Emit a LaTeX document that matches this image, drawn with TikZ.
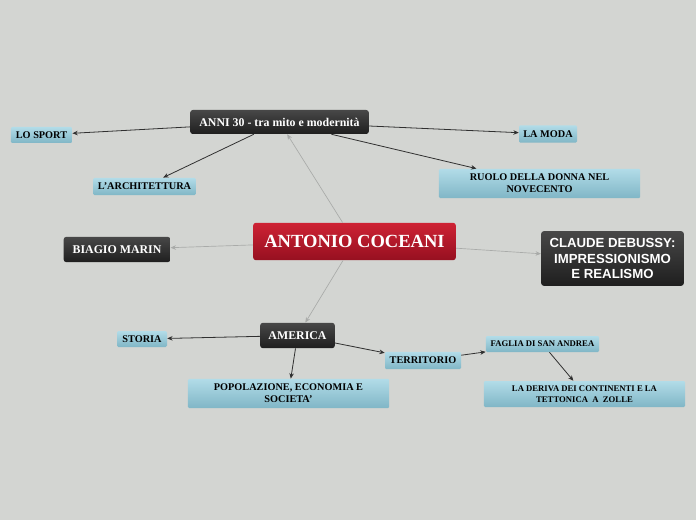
\documentclass[tikz,border=0pt]{standalone}
\usepackage{fontspec}
\setmainfont{Liberation Serif}
\newfontfamily\headsans{Liberation Sans}
\usetikzlibrary{arrows.meta}
\definecolor{bgcol}{HTML}{D3D5D2}
\definecolor{linkgray}{HTML}{A9ABA9}
\definecolor{linkdark}{HTML}{303030}
\definecolor{redtop}{HTML}{CE2234}
\definecolor{redbot}{HTML}{961020}
\definecolor{bluetop}{HTML}{B2DCE8}
\definecolor{bluebot}{HTML}{80B6C6}
\tikzset{
  mainbox/.style={rounded corners=2pt, top color=redtop, bottom color=redbot,
    text=white, font=\bfseries\fontsize{13.9}{15}\selectfont, minimum width=152pt, minimum height=28pt, inner sep=0pt},
  darkbox/.style={rounded corners=2pt, top color=black!72, bottom color=black!88,
    text=white, font=\bfseries\fontsize{8.9}{10}\selectfont, inner sep=0pt},
  bluebox/.style={rounded corners=1pt, top color=bluetop, bottom color=bluebot,
    text=black, font=\bfseries\fontsize{7.7}{9}\selectfont, inner sep=0pt, align=center},
  smalltext/.style={font=\bfseries\fontsize{6.5}{8}\selectfont},
  mainlink/.style={->, draw=linkgray, line width=0.5pt},
  sublink/.style={->, draw=linkdark, line width=0.6pt}
}
\begin{document}
\begin{tikzpicture}[x=0.75pt, y=-0.75pt, >={Stealth[length=4pt,width=3.4pt]}]
        \fill[bgcol] (0,0) rectangle (696,520);

        \node[mainbox] (C) at (354.5,241.5) {ANTONIO COCEANI};
        \node[darkbox, minimum width=134pt, minimum height=18pt] (A30) at (279.5,122) {ANNI 30 - tra mito e modernità};
        \node[darkbox, minimum width=80pt, minimum height=19pt] (marin) at (117,249.5) {BIAGIO MARIN};
        \node[darkbox, minimum width=107pt, minimum height=41pt, align=center,
          font=\headsans\bfseries\fontsize{9.9}{11.8}\selectfont] (debussy) at (612.5,258.5) {CLAUDE DEBUSSY:\\IMPRESSIONISMO\\E REALISMO};
        \node[darkbox, minimum width=56pt, minimum height=19pt] (am) at (297.5,335.5) {AMERICA};

        \node[bluebox, minimum width=46pt, minimum height=12pt] (sport) at (41.5,135) {LO SPORT};
        \node[bluebox, minimum width=77pt, minimum height=13pt] (arch) at (144.5,186.5) {L'ARCHITETTURA};
        \node[bluebox, minimum width=43.5pt, minimum height=13pt] (moda) at (548,134) {LA MODA};
        \node[bluebox, minimum width=151pt, minimum height=22pt] (donna) at (539.5,183.5) {RUOLO DELLA DONNA NEL\\NOVECENTO};
        \node[bluebox, minimum width=37.5pt, minimum height=12pt] (storia) at (142,339) {STORIA};
        \node[bluebox, minimum width=151pt, minimum height=22pt] (pop) at (288.5,393.5) {POPOLAZIONE, ECONOMIA E\\SOCIETA'};
        \node[bluebox, minimum width=57pt, minimum height=13pt] (terr) at (423,360.5) {TERRITORIO};
        \node[bluebox, smalltext, minimum width=85pt, minimum height=12pt] (faglia) at (542.5,344) {FAGLIA DI SAN ANDREA};
        \node[bluebox, smalltext, minimum width=151pt, minimum height=19.5pt] (deriva) at (584.5,394) {LA DERIVA DEI CONTINENTI E LA\\TETTONICA\ \ A\ \ ZOLLE};

        \draw[mainlink] (C) -- (A30);
        \draw[mainlink] (C) -- (marin);
        \draw[mainlink] (C) -- (debussy);
        \draw[mainlink] (C) -- (am);

        \draw[sublink] (A30) -- (sport);
        \draw[sublink] (A30) -- (arch);
        \draw[sublink] (A30) -- (moda);
        \draw[sublink] (A30) -- (donna);
        \draw[sublink] (am) -- (storia);
        \draw[sublink] (am) -- (pop);
        \draw[sublink] (am) -- (terr);
        \draw[sublink] (terr) -- (faglia);
        \draw[sublink] (faglia) -- (deriva);
        \end{tikzpicture}
\end{document}
